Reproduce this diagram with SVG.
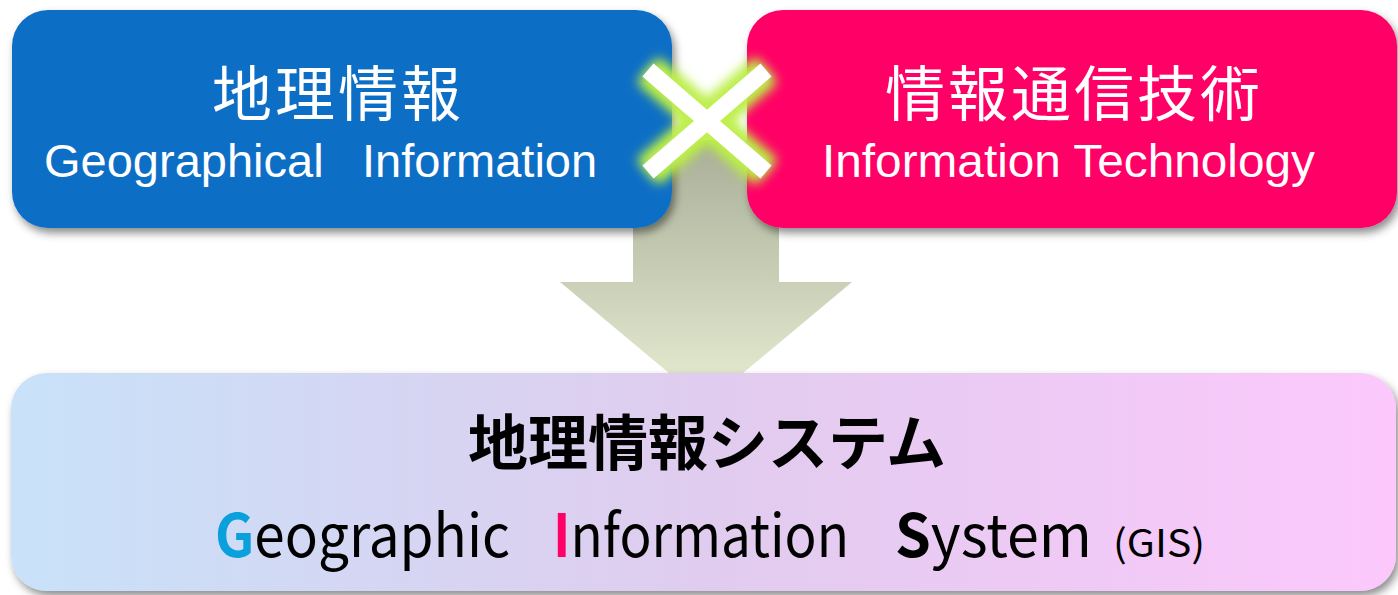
<svg xmlns="http://www.w3.org/2000/svg" width="1398" height="595" viewBox="0 0 1398 595">
<defs>
<linearGradient id="arrowGrad" x1="0" y1="0" x2="0" y2="1">
<stop offset="0" stop-color="#A9AE98"/>
<stop offset="1" stop-color="#E7EED3"/>
</linearGradient>
<linearGradient id="bottomGrad" x1="0" y1="0" x2="1" y2="0">
<stop offset="0" stop-color="#C8E2F9"/>
<stop offset="0.5" stop-color="#E0CCEE"/>
<stop offset="1" stop-color="#FCC8FC"/>
</linearGradient>
<filter id="shadow" x="-5%" y="-10%" width="115%" height="130%">
<feDropShadow dx="3" dy="5" stdDeviation="4" flood-color="#000" flood-opacity="0.45"/>
</filter>
<filter id="glow" x="-30%" y="-30%" width="160%" height="160%">
<feGaussianBlur stdDeviation="6"/>
</filter>
<style>
.cjk{font-family:"Noto Sans CJK JP","Noto Sans CJK SC",sans-serif;font-size:60px;fill:#fff;text-anchor:middle;letter-spacing:3px}
.en{font-family:"Liberation Sans",Arial,sans-serif;font-size:47px;fill:#fff}
.bcjk{font-family:"Noto Sans CJK JP",sans-serif;font-size:60px;font-weight:bold;fill:#000;text-anchor:middle}
.ben{font-family:"Noto Sans CJK JP",sans-serif;font-size:59px;fill:#000}
.cap{font-weight:bold}
</style>
</defs>

<g id="connectors">
<path id="arrow" d="M633,140 L779,140 L779,282 L852,282 L706,404 L560,282 L633,282 Z" fill="url(#arrowGrad)"/>
</g>

<g id="node-geo">
<rect x="12" y="10" width="660" height="218" rx="36" ry="36" fill="#116EC6" filter="url(#shadow)"/>
<text class="cjk" x="338" y="116">地理情報</text>
<text class="en" x="44" y="177">Geographical</text>
<text class="en" x="362" y="177">Information</text>
</g>

<g id="node-it">
<rect x="747" y="10" width="650" height="218" rx="36" ry="36" fill="#FF0066" filter="url(#shadow)"/>
<text class="cjk" x="1074" y="116">情報通信技術</text>
<text class="en" x="822" y="177" textLength="493" lengthAdjust="spacingAndGlyphs">Information Technology</text>
</g>

<g id="cross">
<path d="M648,70 L766,172 M766,70 L648,172" stroke="#B6EE3A" stroke-width="34" fill="none" filter="url(#glow)"/>
<path d="M648,70 L766,172 M766,70 L648,172" stroke="#C8F060" stroke-width="24" fill="none" opacity="0.6" filter="url(#glow)"/>
<path d="M648,70 L766,172 M766,70 L648,172" stroke="#fff" stroke-width="17" fill="none"/>
</g>

<g id="node-gis">
<rect x="11" y="373" width="1385" height="218" rx="36" ry="36" fill="url(#bottomGrad)" filter="url(#shadow)"/>
<text class="bcjk" x="707" y="465">地理情報システム</text>
<text class="ben" x="215" y="557" textLength="295" lengthAdjust="spacingAndGlyphs"><tspan class="cap" fill="#0AA0DC">G</tspan>eographic</text>
<text class="ben" x="553" y="557" textLength="296" lengthAdjust="spacingAndGlyphs"><tspan class="cap" fill="#FF0066">I</tspan>nformation</text>
<text class="ben" x="895" y="557" textLength="197" lengthAdjust="spacingAndGlyphs"><tspan class="cap">S</tspan>ystem</text>
<text class="ben" x="1113" y="557" textLength="92" lengthAdjust="spacingAndGlyphs" style="font-size:38px">(GIS)</text>
</g>
</svg>
